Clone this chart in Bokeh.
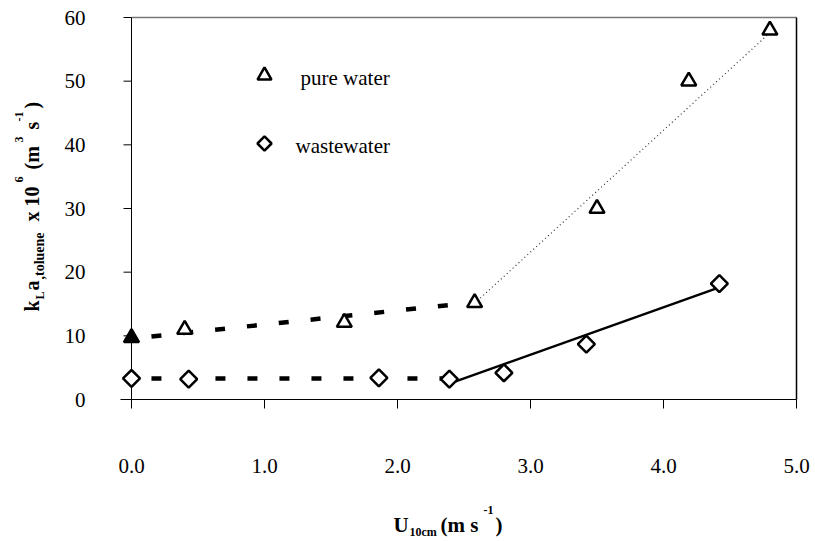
from math import pi
from bokeh.plotting import figure
from bokeh.models import Range1d, Label, ColumnDataSource
from bokeh.core.properties import value
from bokeh.embed import file_html
from bokeh.resources import INLINE

# ---------------- data ----------------
pure_u = [0.0, 0.40, 1.60, 2.58, 3.50, 4.19, 4.80]
pure_k = [9.7, 11.0, 12.1, 15.2, 30.0, 50.0, 58.0]

waste_u = [0.0, 0.43, 1.86, 2.39, 2.80, 3.42, 4.42]
waste_k = [3.3, 3.2, 3.4, 3.2, 4.2, 8.7, 18.2]

# fitted trend lines (end points)
pure_low_fit_u = [0.15, 2.55]
pure_low_fit_k = [9.9, 15.2]
pure_high_fit_u = [2.60, 4.80]
pure_high_fit_k = [15.5, 57.6]
waste_low_fit_u = [0.15, 2.35]
waste_low_fit_k = [3.3, 3.3]
waste_high_fit_u = [2.39, 4.42]
waste_high_fit_k = [2.5, 17.6]

x_ticks = [0, 1, 2, 3, 4, 5]
x_tick_labels = ["0.0", "1.0", "2.0", "3.0", "4.0", "5.0"]
y_ticks = [0, 10, 20, 30, 40, 50, 60]
y_tick_labels = ["0", "10", "20", "30", "40", "50", "60"]

series_names = ["pure water", "wastewater"]

# ---------------- layout geometry (pixels) ----------------
W, H = 815, 541
PX_L, PX_R = 131, 796      # where the x axis starts / ends
PY_B, PY_T = 399, 17       # where the y axis starts / ends
X0, X1 = x_ticks[0], x_ticks[-1]
Y0, Y1 = y_ticks[0], y_ticks[-1]
ppx = (PX_R - PX_L) / (X1 - X0)
ppy = (PY_B - PY_T) / (Y1 - Y0)
x_start, x_end = X0 - PX_L / ppx, X1 + (W - PX_R) / ppx
y_start, y_end = Y0 - (H - PY_B) / ppy, Y1 + PY_T / ppy


def ux(X):
    return x_start + X / ppx


def ky(Y):
    return y_end - Y / ppy


FONT = "Liberation Serif"
p = figure(width=W, height=H, output_backend="svg", toolbar_location=None,
           x_range=Range1d(x_start, x_end), y_range=Range1d(y_start, y_end),
           min_border=0, x_axis_location=None, y_axis_location=None, title=None)
p.grid.visible = False
p.outline_line_color = None
p.background_fill_color = "white"
p.border_fill_color = "white"

# ---------------- axes ----------------
# frame top / right
p.segment(x0=[X0], y0=[Y1], x1=[X1], y1=[Y1], line_color="#777777", line_width=1.5)
p.segment(x0=[X1], y0=[Y0], x1=[X1], y1=[Y1], line_color="black", line_width=1.5)
# axis lines
p.segment(x0=[X0], y0=[Y0], x1=[X1], y1=[Y0], line_color="black", line_width=1)
p.ray(x=[X0], y=[Y0], length=11, length_units="screen", angle=pi,
      line_color="black", line_width=1)
p.segment(x0=[X0], y0=[Y0], x1=[X0], y1=[Y1], line_color="black", line_width=1)
# ticks
p.ray(x=x_ticks, y=[Y0] * len(x_ticks), length=9, length_units="screen",
      angle=-pi / 2, line_color="black", line_width=1)
p.ray(x=[X0] * len(y_ticks), y=y_ticks, length=8, length_units="screen",
      angle=pi, line_color="black", line_width=1)
# tick labels
p.text(x=x_ticks, y=[Y0] * len(x_ticks), text=x_tick_labels, y_offset=66,
       text_align="center", text_baseline="middle", text_font=value(FONT),
       text_font_size="21px", text_color="black")
p.text(x=[X0] * len(y_ticks), y=y_ticks, text=y_tick_labels, x_offset=-46,
       text_align="right", text_baseline="middle", text_font=value(FONT),
       text_font_size="21px", text_color="black")

# ---------------- trend lines ----------------
p.line(pure_low_fit_u, pure_low_fit_k, line_color="black", line_width=4.5,
       line_dash="10 22")
p.line(waste_low_fit_u, waste_low_fit_k, line_color="black", line_width=4.5,
       line_dash="10 22")
p.line(pure_high_fit_u, pure_high_fit_k, line_color="#333333", line_width=1.2,
       line_dash="1 3")
p.line(waste_high_fit_u, waste_high_fit_k, line_color="black", line_width=2.5)

# ---------------- points ----------------
pure_src = ColumnDataSource(dict(u=pure_u, k=pure_k,
                                 fill=["black"] + ["white"] * (len(pure_u) - 1)))
waste_src = ColumnDataSource(dict(u=waste_u, k=waste_k))
p.scatter("u", "k", source=pure_src, marker="triangle", size=15,
          fill_color="fill", line_color="black", line_width=2.5)
p.scatter("u", "k", source=waste_src, marker="square", angle=pi / 4,
          size=12, fill_color="white", line_color="black", line_width=2.5)

# ---------------- legend (drawn in place) ----------------
p.scatter(x=[ux(264)], y=[ky(75)], marker="triangle", size=14,
          fill_color="white", line_color="black", line_width=2.5)
p.scatter(x=[ux(264)], y=[ky(143)], marker="square", angle=pi / 4, size=10,
          fill_color="white", line_color="black", line_width=2.5)


def lab(text, X, Y, size, angle=0.0, style="bold"):
    """Text whose left end sits at X (or bottom end at Y when rotated),
    vertically centred (middle baseline) on the other coordinate."""
    p.add_layout(Label(x=X, y=H - Y, x_units="screen", y_units="screen",
                       text=text, angle=angle, text_font=FONT,
                       text_font_style=style, text_font_size=f"{size}px",
                       text_align="left", text_baseline="middle",
                       text_color="black"))


lab(series_names[0], 300, 77, 21, style="normal")
lab(series_names[1], 295, 145, 21, style="normal")

# ---------------- axis titles (with sub/superscripts) ----------------
# x title: U_10cm (m s^-1)
lab("U", 393, 524, 21)
lab("10cm", 409, 531, 12)
lab("(m s", 440, 524, 21)
lab("-1", 483, 509, 12)
lab(")", 495, 524, 21)

# y title: k_L a_,toluene x 10^6 (m^3 s^-1), rotated
A = pi / 2
MAIN, SUB, SUP = 31, 39, 18
lab("k", MAIN, 311, 20, A)
lab("L", SUB, 299, 12, A)
lab("a", MAIN, 290, 20, A)
lab(",toluene", SUB, 279, 14, A)
lab("x 10", MAIN, 221, 20, A)
lab("6", SUP, 182, 12, A)
lab("(m", MAIN, 169, 20, A)
lab("3", SUP, 142, 12, A)
lab("s", MAIN, 129, 20, A)
lab("-1", SUP, 121, 12, A)
lab(")", MAIN, 108, 20, A)

open("out.html", "w").write(file_html(p, INLINE))
